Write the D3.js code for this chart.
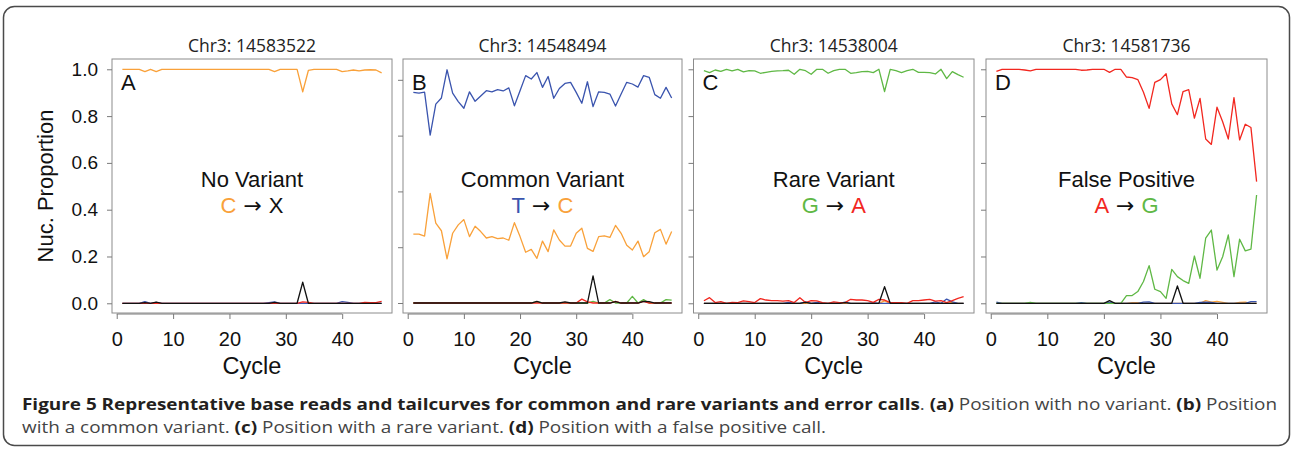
<!DOCTYPE html>
<html>
<head>
<meta charset="utf-8">
<script src="https://d3js.org/d3.v7.min.js"></script>
<style>
  body { margin: 0; background: #fff; }
  .frame { fill: none; stroke: #4a4a4a; stroke-width: 1.5; }
  .box { fill: none; stroke: #8c8c8c; stroke-width: 1; }
  .axis line, .axis path { stroke: #7a7a7a; }
  .axis text { font-family: "Liberation Sans", Arial, sans-serif; font-size: 19px; fill: #111; }
  .xaxis text { font-size: 20px; }
  .series { fill: none; stroke-width: 1.3; stroke-linejoin: round; }
  .title { font-family: "Open Sans", sans-serif; font-size: 17.5px; fill: #222; text-anchor: middle; }
  .label { font-family: "Liberation Sans", Arial, sans-serif; font-size: 22px; fill: #111; }
  .cycle { font-size: 23.5px; }
  .arrow { font-family: "DejaVu Sans", sans-serif; }
  .caption { font-family: "Open Sans", sans-serif; font-size: 16px; fill: #444; }
  .caption .b { font-weight: bold; fill: #231f20; }
</style>
</head>
<body>
<svg id="chart" width="1295" height="450"></svg>
<script>
  // cycle numbers shared by all four panels
  var cycles = d3.range(1, 48);
  var xTicks = [0, 10, 20, 30, 40];

  // panel titles and annotations
  var titles = ['Chr3: 14583522', 'Chr3: 14548494', 'Chr3: 14538004', 'Chr3: 14581736'];
  var letters = ['A', 'B', 'C', 'D'];
  var kinds = ['No Variant', 'Common Variant', 'Rare Variant', 'False Positive'];
  var changes = [['C', 'X'], ['T', 'C'], ['G', 'A'], ['A', 'G']];

  // nucleotide proportions per cycle (A, C, G, T, N)
  // panel A: no variant
  var aC = [1,1,1,1,.99,1,.99,1,1,1, 1,1,1,1,1,1,1,1,1,1, 1,1,1,1,1,1,1,.99,1,1,
            1,1,.904,.995,1,1,1,1,1,.99, .993,.997,.993,.997,.998,.997,.985];
  var aT = [0,0,0,0,.007,0,.004,0,0,0, 0,0,0,0,0,0,0,0,0,0, 0,0,0,0,0,0,.003,.006,0,0,
            0,0,0,0,0,0,0,0,0,.007, .004,0,0,0,0,0,0];
  var aA = [0,0,0,0,0,0,0,0,0,0, 0,0,0,0,0,0,0,0,0,0, 0,0,0,0,0,0,0,0,0,0,
            0,0,.006,.004,0,0,0,0,0,0, 0,0,0,.004,.003,.003,.008];
  var aN = [0,0,0,0,.003,0,.005,0,0,0, 0,0,0,0,0,0,0,0,0,0, 0,0,0,0,0,0,0,.004,0,0,
            0,0,.09,0,0,0,0,0,0,0, 0,0,0,0,0,0,0];

  // panel B: common variant (own y scale)
  var bT = [.755,.752,.756,.602,.713,.735,.836,.752,.722,.698, .757,.723,.742,.761,.757,.765,.760,.771,.707,.761,
            .815,.803,.826,.773,.812,.734,.769,.787,.791,.755, .716,.793,.704,.757,.755,.749,.706,.749,.791,.785,
            .774,.815,.809,.747,.734,.773,.735];
  var bC = [.247,.247,.240,.393,.286,.259,.158,.250,.280,.299, .238,.275,.256,.233,.238,.231,.233,.225,.288,.238,
            .182,.192,.160,.222,.184,.262,.226,.204,.204,.250, .268,.196,.185,.238,.241,.235,.278,.250,.207,.190,
            .222,.166,.184,.252,.264,.211,.256];
  var bG = [0,0,0,0,0,0,0,0,0,0, 0,0,0,0,0,0,0,0,0,0, 0,0,.004,0,0,0,0,0,0,0,
            0,0,.006,0,0,.012,0,0,0,.024, 0,.012,0,0,0,.012,.01];
  var bA = [0,0,0,0,0,0,0,0,0,0, 0,0,0,0,0,0,0,0,0,0, 0,0,0,0,0,0,0,0,0,0,
            .014,.004,0,0,0,0,.006,0,0,0, 0,.006,0,0,0,0,0];
  var bN = [0,0,0,0,0,0,0,0,0,0, 0,0,0,0,0,0,0,0,0,0, 0,0,.006,0,0,0,0,.004,0,0,
            0,0,.097,0,0,0,.005,0,0,0, 0,.006,.005,0,0,0,0];

  // panel C: rare variant
  var cG = [.994,.986,.997,.991,1,.993,1,.989,.994,.993, .983,.987,.991,.993,.994,.996,.979,1,.994,.979,
            1,1,.983,.994,1,1,.983,.986,.99,.991, .986,1,.905,1,.994,.986,.994,1,.987,.987,
            .986,.98,1,.96,.99,.977,.966];
  var cA = [.011,.024,.003,.007,0,.004,.003,.010,.007,.003, .020,.014,.011,.011,.009,.011,.003,.024,.003,.011,
            .010,.003,0,.006,.003,.003,.017,.014,.014,.011, .004,.017,.014,.003,.003,.003,0,.011,.011,.014,
            .017,.009,.011,.003,.011,.021,.028];
  var cT = [0,0,0,0,0,0,0,0,0,0, 0,0,0,0,0,.004,0,0,.006,0, .004,0,0,0,0,.005,0,0,0,0,
            .003,0,0,0,0,0,0,0,0,0, 0,.006,0,.018,.006,0,0];
  var cC = [0,0,0,0,0,0,0,0,0,0, 0,0,0,0,0,0,0,0,0,0, 0,0,0,0,0,0,0,0,0,0,
            0,0,.01,0,0,0,0,0,0,0, 0,0,0,0,.004,0,0];
  var cN = [0,0,0,0,0,0,0,0,0,0, 0,0,0,0,0,0,0,0,.004,0, 0,0,0,0,0,.003,0,0,0,0,
            0,0,.071,0,0,0,0,0,0,0, 0,0,0,0,0,0,0];

  // panel D: false positive
  var dA = [.991,1,1,1,1,.997,.993,1,1,1, 1,1,1,1,1,.996,.997,1,1,1,
            .987,1,1,.967,.964,.956,.902,.833,.944,.956, .981,.852,.806,.905,.913,.791,.876,.702,.679,.838,
            .776,.702,.879,.698,.765,.751,.520];
  var dG = [0,0,0,0,0,0,.004,0,0,0, 0,0,0,0,0,0,0,0,0,0,
            0,0,0,.033,.033,.050,.093,.161,.060,.050, .021,.145,.114,.097,.085,.202,.107,.278,.313,.142,
            .199,.292,.114,.274,.224,.231,.463];
  var dT = [.005,0,0,0,0,0,0,0,0,0, 0,0,0,0,0,.003,0,0,0,0, .004,0,0,0,0,0,.005,.006,0,0,
            0,0,0,0,0,0,.004,.005,.004,0, 0,0,0,0,0,.007,.007];
  var dC = [0,0,0,0,0,0,0,0,0,0, 0,0,0,0,0,0,0,0,0,0, 0,0,0,0,.003,.003,0,0,0,0,
            0,0,0,0,0,0,0,.011,.005,.008, .004,0,0,.004,.005,0,0];
  var dN = [0,0,0,0,0,0,0,0,0,0, 0,0,0,0,0,0,0,0,0,0, .011,0,0,0,0,0,0,0,0,0,
            0,0,.074,0,0,0,0,0,0,0, 0,0,0,0,0,0,0];

  var colors = { A: '#f2271f', C: '#f9a13a', G: '#5fb845', T: '#3a54ae', N: '#111' };

  var panels = [
    { left: 112, right: 392, yDomain: [-0.0415, 1.044], yTicks: [0, .2, .4, .6, .8, 1], labels: true,
      series: [['T', aT], ['A', aA], ['C', aC], ['N', aN]] },
    { left: 403, right: 682, yDomain: [-0.0358, 0.8746], yTicks: [0, .2, .4, .6, .8], labels: false,
      series: [['G', bG], ['A', bA], ['C', bC], ['T', bT], ['N', bN]] },
    { left: 693.5, right: 974, yDomain: [-0.0415, 1.044], yTicks: [0, .2, .4, .6, .8, 1], labels: false,
      series: [['C', cC], ['T', cT], ['A', cA], ['G', cG], ['N', cN]] },
    { left: 986, right: 1267, yDomain: [-0.0415, 1.044], yTicks: [0, .2, .4, .6, .8, 1], labels: false,
      series: [['C', dC], ['T', dT], ['G', dG], ['A', dA], ['N', dN]] }
  ];

  var plotTop = 59, plotBottom = 313;
  var svg = d3.select('#chart');

  svg.append('rect').attr('class', 'frame')
    .attr('x', 3.5).attr('y', 6.5).attr('width', 1286).attr('height', 439).attr('rx', 11);

  panels.forEach(function(p, i) {
    var x = d3.scaleLinear().domain([-0.84, 48.84]).range([p.left, p.right]);
    var y = d3.scaleLinear().domain(p.yDomain).range([plotBottom, plotTop]);
    var g = svg.append('g');

    // the series, black (N) drawn last
    var line = d3.line()
      .x(function(d, k) { return x(cycles[k]); })
      .y(function(d) { return y(d); });
    p.series.forEach(function(s) {
      g.append('path').attr('class', 'series')
        .attr('stroke', colors[s[0]])
        .attr('d', line(s[1]));
    });

    g.append('rect').attr('class', 'box')
      .attr('x', p.left).attr('y', plotTop)
      .attr('width', p.right - p.left).attr('height', plotBottom - plotTop);

    // x axis, line only from first to last tick like R
    var xa = g.append('g').attr('class', 'axis xaxis')
      .attr('transform', 'translate(0,' + (plotBottom + 1) + ')')
      .call(d3.axisBottom(x).tickValues(xTicks).tickSize(5).tickPadding(13));
    xa.select('.domain').remove();
    xa.append('line').attr('x1', x(0)).attr('x2', x(40)).attr('y1', 0).attr('y2', 0);

    var ya = g.append('g').attr('class', 'axis')
      .attr('transform', 'translate(' + p.left + ',0)')
      .call(d3.axisLeft(y).tickValues(p.yTicks).tickSize(5).tickPadding(9)
        .tickFormat(p.labels ? d3.format('.1f') : ''));
    ya.select('.domain').remove();

    var cx = (p.left + p.right) / 2;
    g.append('text').attr('class', 'title').attr('x', cx).attr('y', 52).text(titles[i]);
    g.append('text').attr('class', 'label').attr('x', p.left + 9).attr('y', 90).text(letters[i]);
    g.append('text').attr('class', 'label').attr('x', cx).attr('y', 187)
      .attr('text-anchor', 'middle').text(kinds[i]);
    var ch = g.append('text').attr('class', 'label').attr('x', cx).attr('y', 213)
      .attr('text-anchor', 'middle');
    ch.append('tspan').attr('fill', colors[changes[i][0]]).text(changes[i][0]);
    ch.append('tspan').attr('class', 'arrow').text(' \u2192 ');
    ch.append('tspan').attr('fill', colors[changes[i][1]] || '#111').text(changes[i][1]);

    g.append('text').attr('class', 'label cycle').attr('x', cx).attr('y', 374)
      .attr('text-anchor', 'middle').text('Cycle');
  });

  svg.append('text').attr('class', 'label')
    .attr('transform', 'translate(53,186) rotate(-90)')
    .attr('text-anchor', 'middle').text('Nuc. Proportion');

  // caption
  var cap1 = svg.append('text').attr('class', 'caption').attr('x', 22).attr('y', 410)
    .attr('textLength', 1255).attr('lengthAdjust', 'spacingAndGlyphs');
  [['b', 'Figure 5 Representative base reads and tailcurves for common and rare variants and error calls'],
   ['', '. '], ['b', '(a)'], ['', ' Position with no variant. '], ['b', '(b)'], ['', ' Position']]
    .forEach(function(t) { cap1.append('tspan').attr('class', t[0]).text(t[1]); });

  var cap2 = svg.append('text').attr('class', 'caption').attr('x', 22).attr('y', 433)
    .attr('textLength', 804).attr('lengthAdjust', 'spacingAndGlyphs');
  [['', 'with a common variant. '], ['b', '(c)'], ['', ' Position with a rare variant. '],
   ['b', '(d)'], ['', ' Position with a false positive call.']]
    .forEach(function(t) { cap2.append('tspan').attr('class', t[0]).text(t[1]); });
</script>
</body>
</html>
